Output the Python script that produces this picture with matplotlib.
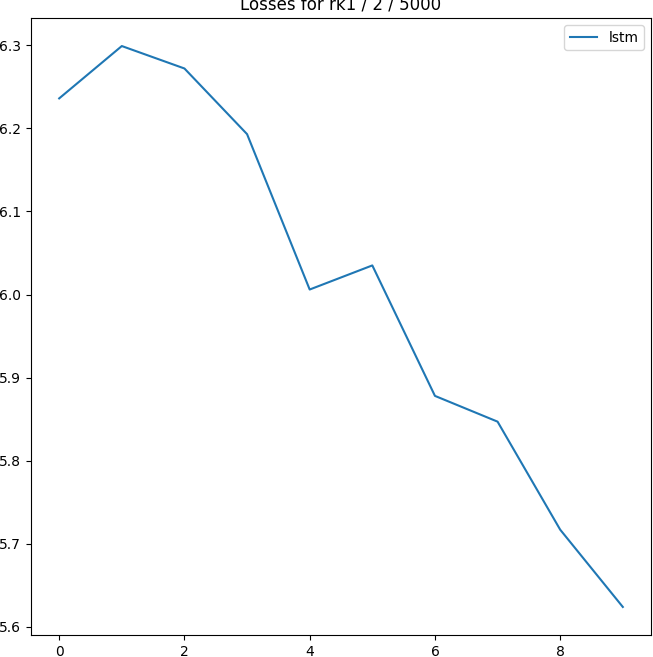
import matplotlib
matplotlib.use("Agg")
import matplotlib.pyplot as plt

epochs = list(range(10))
lstm = [6.236, 6.299, 6.272, 6.193, 6.006, 6.035, 5.878, 5.847, 5.717, 5.624]

fig = plt.figure(figsize=(6.53, 6.57), dpi=100)
ax = fig.add_axes([31/653, 22/657, 620/653, 617/657])
ax.plot(epochs, lstm, color="#1f77b4", label="lstm")
ax.set_title("Losses for rk1 / 2 / 5000")
ax.legend(loc="upper right")
fig.savefig("out.png", dpi=100)
